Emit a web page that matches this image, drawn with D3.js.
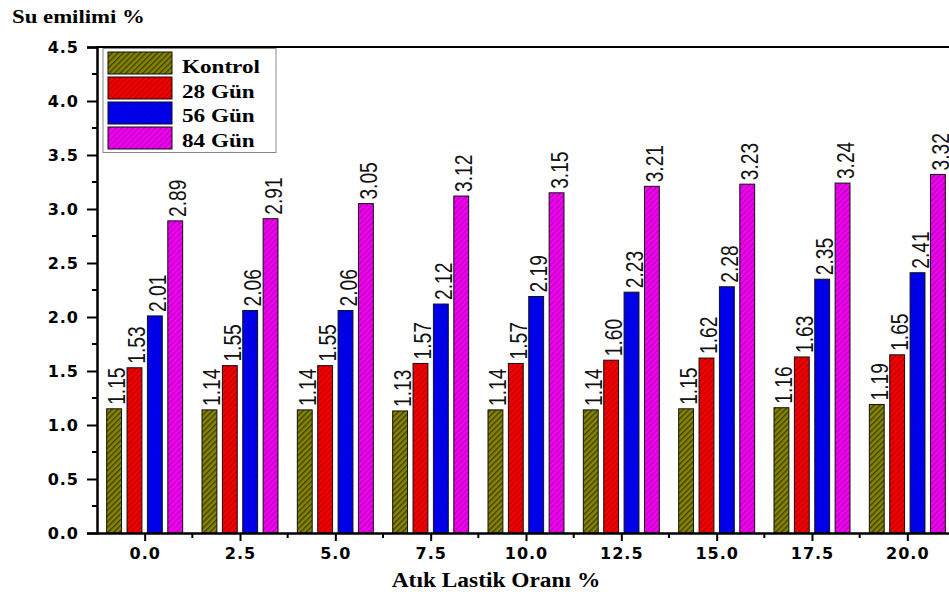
<!DOCTYPE html>
<html><head><meta charset="utf-8">
<script src="https://cdn.jsdelivr.net/npm/d3@7"></script>
<style>html,body{margin:0;padding:0;background:#fff;overflow:hidden}</style>
</head><body>
<svg id="chart" width="949" height="594"></svg>
<script>
const categories = [0.0, 2.5, 5.0, 7.5, 10.0, 12.5, 15.0, 17.5, 20.0];
const seriesNames = ["Kontrol", "28 Gün", "56 Gün", "84 Gün"];
const kontrol = [1.15, 1.14, 1.14, 1.13, 1.14, 1.14, 1.15, 1.16, 1.19];
const gun28 = [1.53, 1.55, 1.55, 1.57, 1.57, 1.60, 1.62, 1.63, 1.65];
const gun56 = [2.01, 2.06, 2.06, 2.12, 2.19, 2.23, 2.28, 2.35, 2.41];
const gun84 = [2.89, 2.91, 3.05, 3.12, 3.15, 3.21, 3.23, 3.24, 3.32];
const yTicks = [0.0, 0.5, 1.0, 1.5, 2.0, 2.5, 3.0, 3.5, 4.0, 4.5];
const yTitle = "Su emilimi %";
const xTitle = "Atık Lastik Oranı %";

const seriesValues = [kontrol, gun28, gun56, gun84];
const fills = ["#858500", "#f50000", "#0000f0", "#f500f5"];
const hatch = ["#2e2e00", "#b00000", "#0000b0", "#a800a8"];

const svg = d3.select("#chart");
const plotLeft = 97, plotTop = 47, plotBottom = 533;
const x = d3.scaleLinear().domain([-1.25, 21.25]).range([plotLeft, 955]);
const y = d3.scaleLinear().domain([0, 4.5]).range([plotBottom, plotTop]);
const inner = d3.scaleBand().domain(seriesNames).range([-38, 38]).paddingInner(0.27);

// patterns
const defs = svg.append("defs");
seriesNames.forEach((s, i) => {
  const p = defs.append("pattern").attr("id", "hatch" + i)
    .attr("patternUnits", "userSpaceOnUse").attr("width", 4).attr("height", 4)
    .attr("patternTransform", "rotate(45)");
  p.append("rect").attr("width", 4).attr("height", 4).attr("fill", fills[i]);
  p.append("rect").attr("width", 1.4).attr("height", 4).attr("fill", hatch[i]).attr("opacity", i === 2 ? 0.35 : 0.8);
});

// bars
const g = svg.append("g");
seriesNames.forEach((s, si) => {
  const vals = seriesValues[si];
  g.selectAll(null).data(categories).enter().append("rect")
    .attr("x", (c) => x(c) + inner(s))
    .attr("y", (c, i) => y(vals[i]))
    .attr("width", inner.bandwidth())
    .attr("height", (c, i) => y(0) - y(vals[i]))
    .attr("fill", "url(#hatch" + si + ")")
    .attr("stroke", "#111").attr("stroke-width", 1);
  g.selectAll(null).data(categories).enter().append("text")
    .attr("transform", (c, i) => `translate(${x(c) + inner(s) + inner.bandwidth() / 2 + 11},${y(vals[i]) - 4}) rotate(-90) scale(0.8,1)`)
    .attr("font-family", "Liberation Sans, Arial, sans-serif")
    .attr("font-size", 24).attr("fill", "#111")
    .text((c, i) => vals[i].toFixed(2));
});

// frame top
svg.append("line").attr("x1", plotLeft).attr("x2", 949).attr("y1", plotTop).attr("y2", plotTop)
  .attr("stroke", "#000").attr("stroke-width", 2);

// y axis
const yMinor = d3.range(0, 4.5, 0.25).filter(v => Math.abs(v * 2 - Math.round(v * 2)) > 0.01);
const yAxis = svg.append("g").attr("transform", `translate(${plotLeft},0)`)
  .call(d3.axisLeft(y).tickValues(yTicks).tickFormat(d3.format(".1f")).tickSize(10).tickPadding(8));
yAxis.select(".domain").attr("stroke-width", 2.5);
yAxis.selectAll(".tick line").attr("stroke-width", 2);
yAxis.selectAll(".tick text")
  .attr("font-family", "DejaVu Sans, sans-serif").attr("font-weight", "bold")
  .attr("font-size", 16).attr("letter-spacing", "1px").attr("fill", "#000")
  .attr("dy", "0.36em");
svg.append("g").selectAll("line").data(yMinor).enter().append("line")
  .attr("x1", plotLeft - 5).attr("x2", plotLeft).attr("y1", d => y(d)).attr("y2", d => y(d))
  .attr("stroke", "#000").attr("stroke-width", 2);

// x axis
const xMinor = categories.map(c => c + 1.25).filter(v => x(v) < 949);
const xAxis = svg.append("g").attr("transform", `translate(0,${plotBottom})`)
  .call(d3.axisBottom(x).tickValues(categories).tickFormat(d3.format(".1f")).tickSize(8).tickSizeOuter(0).tickPadding(7));
xAxis.select(".domain").attr("stroke-width", 2.5);
xAxis.selectAll(".tick line").attr("stroke-width", 2);
xAxis.selectAll(".tick text")
  .attr("font-family", "DejaVu Sans, sans-serif").attr("font-weight", "bold")
  .attr("font-size", 16).attr("letter-spacing", "1px").attr("fill", "#000");
svg.append("g").selectAll("line").data(xMinor).enter().append("line")
  .attr("x1", d => x(d)).attr("x2", d => x(d)).attr("y1", plotBottom).attr("y2", plotBottom + 5)
  .attr("stroke", "#000").attr("stroke-width", 2);

// titles
svg.append("text").attr("transform", "translate(12,23) scale(1.2,1)")
  .attr("font-family", "Liberation Serif, Times New Roman, serif").attr("font-weight", "bold")
  .attr("font-size", 19).attr("fill", "#000").text(yTitle);
svg.append("text").attr("transform", "translate(496,587) scale(1.17,1)")
  .attr("text-anchor", "middle")
  .attr("font-family", "Liberation Serif, Times New Roman, serif").attr("font-weight", "bold")
  .attr("font-size", 20).attr("fill", "#000").text(xTitle);

// legend
const lg = svg.append("g");
lg.append("rect").attr("x", 103).attr("y", 48.5).attr("width", 173).attr("height", 104)
  .attr("fill", "#fff").attr("stroke", "#888").attr("stroke-width", 1);
seriesNames.forEach((s, i) => {
  lg.append("rect").attr("x", 108).attr("y", 52 + i * 25).attr("width", 64).attr("height", 22)
    .attr("fill", "url(#hatch" + i + ")").attr("stroke", "#111").attr("stroke-width", 1);
  lg.append("text").attr("transform", `translate(182,${73 + i * 24.5}) scale(1.25,1)`)
    .attr("font-family", "Liberation Serif, Times New Roman, serif").attr("font-weight", "bold")
    .attr("font-size", 18.5).attr("fill", "#000").text(s);
});
</script>
</body></html>
